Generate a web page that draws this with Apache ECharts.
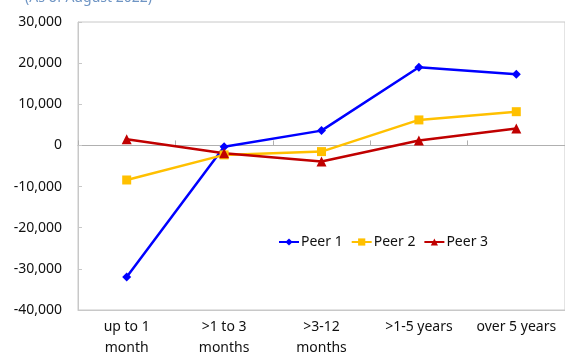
<!DOCTYPE html>
<html><head><meta charset="utf-8">
<script src="https://cdn.jsdelivr.net/npm/echarts@6/dist/echarts.min.js"></script>
<style>html,body{margin:0;padding:0;background:#fff}#c{width:565px;height:362px}</style>
</head><body><div id="c"></div>
<script>
var categories = ['up to 1\nmonth', '>1 to 3\nmonths', '>3-12\nmonths', '>1-5 years', 'over 5 years'];
var peer1 = [-32000, -300, 3600, 19000, 17300];
var peer2 = [-8400, -2300, -1500, 6200, 8200];
var peer3 = [1500, -1900, -3900, 1200, 4100];
var yTicks = [-40000, -30000, -20000, -10000, 0, 10000, 20000, 30000];
var subtitle = '(As of August 2022)';

var font = 'Noto Sans';
var chart = echarts.init(document.getElementById('c'), null, {renderer: 'canvas'});
function mk(name, data, color, symbol, size) {
  return {
    name: name, type: 'line', data: data, xAxisIndex: 0,
    symbol: symbol, symbolSize: size, showSymbol: true,
    lineStyle: {color: color, width: 2.5},
    itemStyle: {color: color},
    emphasis: {disabled: true}, animation: false
  };
}
chart.setOption({
  animation: false,
  title: {text: subtitle, left: 20, top: -14, textStyle: {fontFamily: font, fontSize: 14, fontWeight: 'normal', color: '#6f95c4'}},
  grid: {left: 78, top: 22, width: 492, height: 288, show: true, borderColor: '#c8c8c8', borderWidth: 1},
  legend: {
    left: 273, top: 230, itemWidth: 20, itemHeight: 9, itemGap: 8,
    textStyle: {fontFamily: font, fontSize: 14, color: '#111', padding: [0, 0, 0, -3]},
    data: ['Peer 1', 'Peer 2', 'Peer 3']
  },
  xAxis: [{
    type: 'category', data: categories, position: 'bottom',
    axisLine: {onZero: false, lineStyle: {color: '#c8c8c8'}},
    axisTick: {show: false},
    axisLabel: {fontFamily: font, fontSize: 14, color: '#111', lineHeight: 21, margin: 7, interval: 0}
  }, {
    type: 'category', data: categories, position: 'top',
    axisLine: {onZero: true, lineStyle: {color: '#b0b0b0'}},
    axisTick: {show: true, inside: false, length: 5, lineStyle: {color: '#b0b0b0'}},
    axisLabel: {show: false}
  }],
  yAxis: {
    type: 'value', min: -40000, max: 30000, interval: 10000,
    axisLine: {show: true, lineStyle: {color: '#c8c8c8'}},
    axisTick: {show: true, inside: true, length: 4, lineStyle: {color: '#c8c8c8'}},
    splitLine: {show: false},
    axisLabel: {fontFamily: font, fontSize: 14, color: '#111', margin: 16,
      formatter: function (v) { return yTicks.indexOf(v) >= 0 ? v.toLocaleString('en-US') : ''; }}
  },
  series: [
    mk('Peer 1', peer1, '#0000ff', 'diamond', 9),
    mk('Peer 2', peer2, '#ffc000', 'rect', 9),
    mk('Peer 3', peer3, '#c00000', 'triangle', 10)
  ]
});
</script></body></html>
